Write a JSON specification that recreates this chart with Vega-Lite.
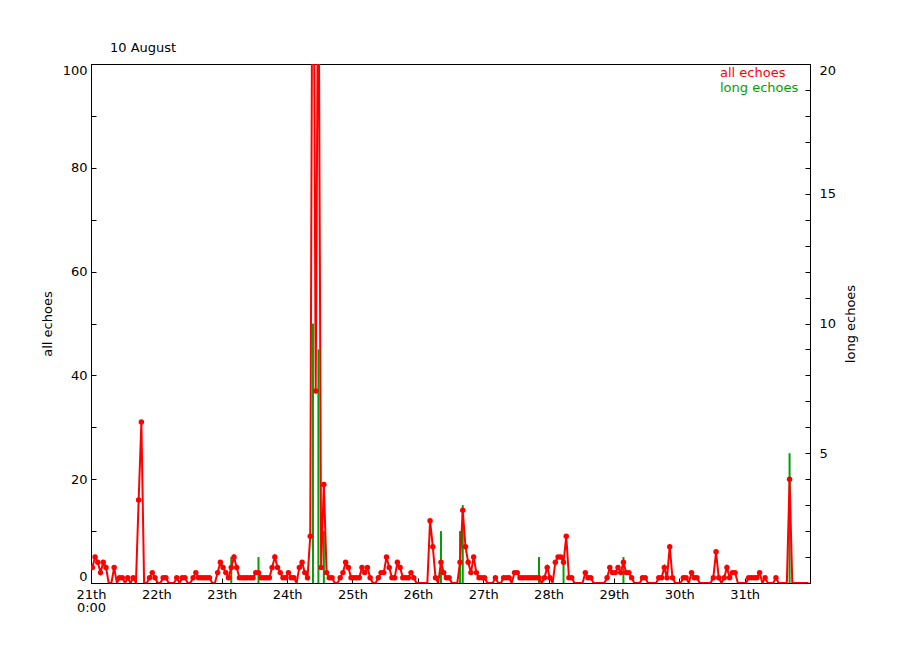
{
  "$schema": "https://vega.github.io/schema/vega-lite/v6.json",
  "width": 719,
  "height": 519,
  "autosize": {"type": "none"},
  "padding": {"left": 91, "top": 64, "right": 90, "bottom": 67},
  "background": "white",
  "title": {"text": "10 August", "anchor": "start", "frame": "group", "dx": 19, "offset": 9, "fontSize": 13, "font": "DejaVu Sans", "fontWeight": "normal", "color": "black"},
  "config": {
    "view": {"stroke": "black", "strokeWidth": 1},
    "font": "DejaVu Sans",
    "axis": {"grid": false, "domainColor": "black", "tickColor": "black", "labelColor": "black", "titleColor": "black", "labelFontSize": 13, "titleFontSize": 13, "titleFontWeight": "normal", "labelFont": "DejaVu Sans", "titleFont": "DejaVu Sans", "tickSize": -5, "labelOverlap": false}
  },
  "data": {"values": [
    {"t":0.5,"a":3,"l":0},{"t":1.5,"a":5,"l":0},{"t":2.5,"a":4,"l":0},{"t":3.5,"a":2,"l":0},{"t":4.5,"a":4,"l":0},{"t":5.5,"a":3,"l":0},{"t":6.5,"a":0,"l":0},{"t":7.5,"a":0,"l":0},{"t":8.5,"a":3,"l":0},{"t":9.5,"a":0,"l":0},
    {"t":10.5,"a":1,"l":0},{"t":11.5,"a":1,"l":0},{"t":12.5,"a":0,"l":0},{"t":13.5,"a":1,"l":0},{"t":14.5,"a":0,"l":0},{"t":15.5,"a":1,"l":0},{"t":16.5,"a":0,"l":0},{"t":17.5,"a":16,"l":0},{"t":18.5,"a":31,"l":0},{"t":19.5,"a":0,"l":0},
    {"t":20.5,"a":0,"l":0},{"t":21.5,"a":1,"l":0},{"t":22.5,"a":2,"l":0},{"t":23.5,"a":1,"l":0},{"t":24.5,"a":0,"l":0},{"t":25.5,"a":0,"l":0},{"t":26.5,"a":1,"l":0},{"t":27.5,"a":1,"l":0},{"t":28.5,"a":0,"l":0},{"t":29.5,"a":0,"l":0},
    {"t":30.5,"a":0,"l":0},{"t":31.5,"a":1,"l":0},{"t":32.5,"a":0,"l":0},{"t":33.5,"a":1,"l":0},{"t":34.5,"a":1,"l":0},{"t":35.5,"a":0,"l":0},{"t":36.5,"a":0,"l":0},{"t":37.5,"a":1,"l":0},{"t":38.5,"a":2,"l":0},{"t":39.5,"a":1,"l":0},
    {"t":40.5,"a":1,"l":0},{"t":41.5,"a":1,"l":0},{"t":42.5,"a":1,"l":0},{"t":43.5,"a":1,"l":0},{"t":44.5,"a":0,"l":0},{"t":45.5,"a":0,"l":0},{"t":46.5,"a":2,"l":0},{"t":47.5,"a":4,"l":0},{"t":48.5,"a":3,"l":0},{"t":49.5,"a":2,"l":0},
    {"t":50.5,"a":1,"l":0},{"t":51.5,"a":3,"l":1},{"t":52.5,"a":5,"l":0},{"t":53.5,"a":3,"l":0},{"t":54.5,"a":1,"l":0},{"t":55.5,"a":1,"l":0},{"t":56.5,"a":1,"l":0},{"t":57.5,"a":1,"l":0},{"t":58.5,"a":1,"l":0},{"t":59.5,"a":1,"l":0},
    {"t":60.5,"a":2,"l":0},{"t":61.5,"a":2,"l":1},{"t":62.5,"a":1,"l":0},{"t":63.5,"a":1,"l":0},{"t":64.5,"a":1,"l":0},{"t":65.5,"a":1,"l":0},{"t":66.5,"a":3,"l":0},{"t":67.5,"a":5,"l":0},{"t":68.5,"a":3,"l":0},{"t":69.5,"a":2,"l":0},
    {"t":70.5,"a":1,"l":0},{"t":71.5,"a":1,"l":0},{"t":72.5,"a":2,"l":0},{"t":73.5,"a":1,"l":0},{"t":74.5,"a":1,"l":0},{"t":75.5,"a":0,"l":0},{"t":76.5,"a":3,"l":0},{"t":77.5,"a":4,"l":0},{"t":78.5,"a":2,"l":0},{"t":79.5,"a":1,"l":0},
    {"t":80.5,"a":9,"l":0},{"t":81.5,"a":160,"l":10},{"t":82.5,"a":37,"l":0},{"t":83.5,"a":130,"l":9},{"t":84.5,"a":3,"l":0},{"t":85.5,"a":19,"l":2},{"t":86.5,"a":2,"l":0},{"t":87.5,"a":1,"l":0},{"t":88.5,"a":1,"l":0},{"t":89.5,"a":0,"l":0},
    {"t":90.5,"a":0,"l":0},{"t":91.5,"a":1,"l":0},{"t":92.5,"a":2,"l":0},{"t":93.5,"a":4,"l":0},{"t":94.5,"a":3,"l":0},{"t":95.5,"a":1,"l":0},{"t":96.5,"a":1,"l":0},{"t":97.5,"a":1,"l":0},{"t":98.5,"a":1,"l":0},{"t":99.5,"a":3,"l":0},
    {"t":100.5,"a":2,"l":0},{"t":101.5,"a":3,"l":0},{"t":102.5,"a":1,"l":0},{"t":103.5,"a":0,"l":0},{"t":104.5,"a":0,"l":0},{"t":105.5,"a":1,"l":0},{"t":106.5,"a":2,"l":0},{"t":107.5,"a":2,"l":0},{"t":108.5,"a":5,"l":0},{"t":109.5,"a":3,"l":0},
    {"t":110.5,"a":1,"l":0},{"t":111.5,"a":1,"l":0},{"t":112.5,"a":4,"l":0},{"t":113.5,"a":3,"l":0},{"t":114.5,"a":1,"l":0},{"t":115.5,"a":1,"l":0},{"t":116.5,"a":1,"l":0},{"t":117.5,"a":2,"l":0},{"t":118.5,"a":1,"l":0},{"t":119.5,"a":0,"l":0},
    {"t":120.5,"a":0,"l":0},{"t":121.5,"a":0,"l":0},{"t":122.5,"a":0,"l":0},{"t":123.5,"a":0,"l":0},{"t":124.5,"a":12,"l":0},{"t":125.5,"a":7,"l":0},{"t":126.5,"a":1,"l":0},{"t":127.5,"a":0,"l":0},{"t":128.5,"a":4,"l":2},{"t":129.5,"a":2,"l":0},
    {"t":130.5,"a":1,"l":0},{"t":131.5,"a":1,"l":0},{"t":132.5,"a":0,"l":0},{"t":133.5,"a":0,"l":0},{"t":134.5,"a":0,"l":0},{"t":135.5,"a":4,"l":2},{"t":136.5,"a":14,"l":3},{"t":137.5,"a":7,"l":0},{"t":138.5,"a":4,"l":0},{"t":139.5,"a":2,"l":0},
    {"t":140.5,"a":5,"l":0},{"t":141.5,"a":2,"l":0},{"t":142.5,"a":1,"l":0},{"t":143.5,"a":1,"l":0},{"t":144.5,"a":1,"l":0},{"t":145.5,"a":0,"l":0},{"t":146.5,"a":0,"l":0},{"t":147.5,"a":0,"l":0},{"t":148.5,"a":1,"l":0},{"t":149.5,"a":0,"l":0},
    {"t":150.5,"a":0,"l":0},{"t":151.5,"a":1,"l":0},{"t":152.5,"a":1,"l":0},{"t":153.5,"a":1,"l":0},{"t":154.5,"a":0,"l":0},{"t":155.5,"a":2,"l":0},{"t":156.5,"a":2,"l":0},{"t":157.5,"a":1,"l":0},{"t":158.5,"a":1,"l":0},{"t":159.5,"a":1,"l":0},
    {"t":160.5,"a":1,"l":0},{"t":161.5,"a":1,"l":0},{"t":162.5,"a":1,"l":0},{"t":163.5,"a":1,"l":0},{"t":164.5,"a":1,"l":1},{"t":165.5,"a":0,"l":0},{"t":166.5,"a":1,"l":0},{"t":167.5,"a":3,"l":0},{"t":168.5,"a":1,"l":0},{"t":169.5,"a":0,"l":0},
    {"t":170.5,"a":4,"l":0},{"t":171.5,"a":5,"l":0},{"t":172.5,"a":5,"l":0},{"t":173.5,"a":4,"l":1},{"t":174.5,"a":9,"l":0},{"t":175.5,"a":1,"l":0},{"t":176.5,"a":1,"l":0},{"t":177.5,"a":0,"l":0},{"t":178.5,"a":0,"l":0},{"t":179.5,"a":0,"l":0},
    {"t":180.5,"a":0,"l":0},{"t":181.5,"a":2,"l":0},{"t":182.5,"a":1,"l":0},{"t":183.5,"a":1,"l":0},{"t":184.5,"a":0,"l":0},{"t":185.5,"a":0,"l":0},{"t":186.5,"a":0,"l":0},{"t":187.5,"a":0,"l":0},{"t":188.5,"a":0,"l":0},{"t":189.5,"a":1,"l":0},
    {"t":190.5,"a":3,"l":0},{"t":191.5,"a":2,"l":0},{"t":192.5,"a":2,"l":0},{"t":193.5,"a":3,"l":0},{"t":194.5,"a":2,"l":0},{"t":195.5,"a":4,"l":1},{"t":196.5,"a":2,"l":0},{"t":197.5,"a":2,"l":0},{"t":198.5,"a":1,"l":0},{"t":199.5,"a":0,"l":0},
    {"t":200.5,"a":0,"l":0},{"t":201.5,"a":0,"l":0},{"t":202.5,"a":1,"l":0},{"t":203.5,"a":1,"l":0},{"t":204.5,"a":0,"l":0},{"t":205.5,"a":0,"l":0},{"t":206.5,"a":0,"l":0},{"t":207.5,"a":0,"l":0},{"t":208.5,"a":1,"l":0},{"t":209.5,"a":1,"l":0},
    {"t":210.5,"a":3,"l":0},{"t":211.5,"a":1,"l":0},{"t":212.5,"a":7,"l":0},{"t":213.5,"a":1,"l":0},{"t":214.5,"a":0,"l":0},{"t":215.5,"a":0,"l":0},{"t":216.5,"a":0,"l":0},{"t":217.5,"a":1,"l":0},{"t":218.5,"a":1,"l":0},{"t":219.5,"a":0,"l":0},
    {"t":220.5,"a":2,"l":0},{"t":221.5,"a":1,"l":0},{"t":222.5,"a":1,"l":0},{"t":223.5,"a":0,"l":0},{"t":224.5,"a":0,"l":0},{"t":225.5,"a":0,"l":0},{"t":226.5,"a":0,"l":0},{"t":227.5,"a":0,"l":0},{"t":228.5,"a":1,"l":0},{"t":229.5,"a":6,"l":0},
    {"t":230.5,"a":1,"l":0},{"t":231.5,"a":0,"l":0},{"t":232.5,"a":1,"l":0},{"t":233.5,"a":3,"l":0},{"t":234.5,"a":1,"l":0},{"t":235.5,"a":2,"l":0},{"t":236.5,"a":2,"l":0},{"t":237.5,"a":0,"l":0},{"t":238.5,"a":0,"l":0},{"t":239.5,"a":0,"l":0},
    {"t":240.5,"a":0,"l":0},{"t":241.5,"a":1,"l":0},{"t":242.5,"a":1,"l":0},{"t":243.5,"a":1,"l":0},{"t":244.5,"a":1,"l":0},{"t":245.5,"a":2,"l":0},{"t":246.5,"a":0,"l":0},{"t":247.5,"a":1,"l":0},{"t":248.5,"a":0,"l":0},{"t":249.5,"a":0,"l":0},
    {"t":250.5,"a":0,"l":0},{"t":251.5,"a":1,"l":0},{"t":252.5,"a":0,"l":0},{"t":253.5,"a":0,"l":0},{"t":254.5,"a":0,"l":0},{"t":255.5,"a":0,"l":0},{"t":256.5,"a":20,"l":5},{"t":257.5,"a":0,"l":0},{"t":258.5,"a":0,"l":0},{"t":259.5,"a":0,"l":0},
    {"t":260.5,"a":0,"l":0},{"t":261.5,"a":0,"l":0},{"t":262.5,"a":0,"l":0},{"t":263.5,"a":0,"l":0}
  ]},
  "layer": [
    {
      "transform": [{"filter": "datum.l > 0"}],
      "mark": {"type": "rule", "strokeWidth": 2, "clip": true},
      "encoding": {
        "x": {"field": "t", "type": "quantitative", "scale": {"domain": [0, 264], "nice": false, "zero": false},
              "axis": {"title": null, "values": [0, 24, 48, 72, 96, 120, 144, 168, 192, 216, 240], "labelPadding": 10, "labelLineHeight": 13, "labelFlush": false,
                       "labelExpr": "datum.value == 0 ? ['21th', '0:00'] : (21 + datum.value / 24) + 'th'"}},
        "y": {"field": "l", "type": "quantitative", "scale": {"domain": [0, 20], "nice": false},
              "axis": {"title": "long echoes", "orient": "right", "values": [0,1,2,3,4,5,6,7,8,9,10,11,12,13,14,15,16,17,18,19,20],
                       "labelExpr": "datum.value % 5 == 0 && datum.value > 0 ? datum.label : ''", "labelPadding": 14, "labelFlush": true,
                       "titlePadding": 9, "titleAngle": 270, "titleBaseline": "top"}},
        "y2": {"datum": 0},
        "color": {"datum": "long echoes", "type": "nominal",
                  "scale": {"domain": ["all echoes", "long echoes"], "range": ["#ff0000", "#00a000"]},
                  "legend": {"title": null, "orient": "none", "legendX": 616, "legendY": 2, "symbolSize": 0, "symbolStrokeWidth": 0, "symbolOpacity": 0,
                             "labelOffset": 0, "labelFontSize": 13, "labelFont": "DejaVu Sans", "rowPadding": 1, "padding": 0,
                             "encode": {"labels": {"update": {"fill": {"signal": "scale('color', datum.value)"}}}}}}
      }
    },
    {
      "layer": [
        {
          "mark": {"type": "line", "strokeWidth": 2, "clip": true},
          "encoding": {
            "x": {"field": "t", "type": "quantitative"},
            "y": {"field": "a", "type": "quantitative", "scale": {"domain": [0, 100], "nice": false},
                  "axis": {"title": "all echoes", "orient": "left", "values": [0,5,10,15,20,25,30,35,40,45,50,55,60,65,70,75,80,85,90,95,100],
                           "labelExpr": "datum.value % 20 == 0 ? datum.label : ''", "labelPadding": 9, "labelFlush": true, "titlePadding": 8}},
            "color": {"datum": "all echoes", "type": "nominal"}
          }
        },
        {
          "transform": [{"filter": "datum.a > 0"}],
          "mark": {"type": "point", "filled": true, "size": 30, "opacity": 1, "clip": true},
          "encoding": {
            "x": {"field": "t", "type": "quantitative"},
            "y": {"field": "a", "type": "quantitative"},
            "color": {"datum": "all echoes", "type": "nominal"}
          }
        }
      ]
    }
  ],
  "resolve": {"scale": {"y": "independent"}}
}
